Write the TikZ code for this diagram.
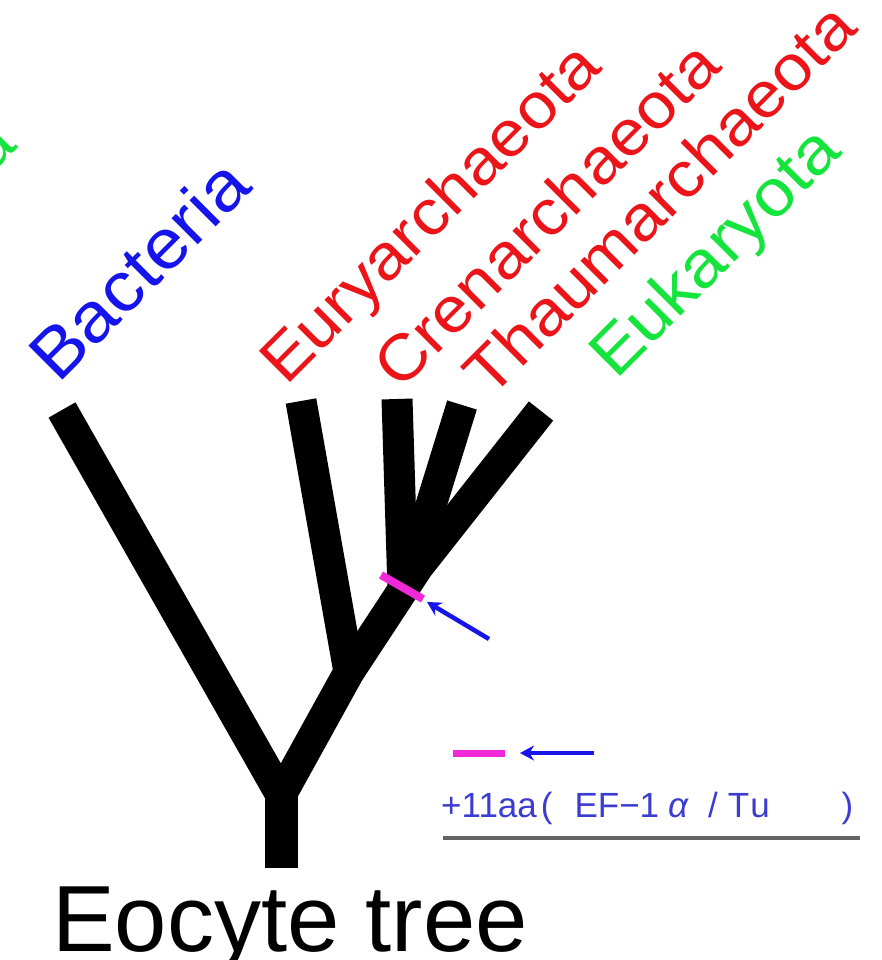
\documentclass[tikz,border=0pt]{standalone}
\usepackage{fontspec}
\setmainfont{Liberation Sans}
\newfontfamily\labelfont[FakeStretch=1.08]{Liberation Sans}
\usetikzlibrary{arrows.meta}

\definecolor{bactblue}{RGB}{20,20,235}
\definecolor{archred}{RGB}{235,20,25}
\definecolor{eukgreen}{RGB}{20,228,60}
\definecolor{legblue}{RGB}{60,60,210}
\definecolor{markpink}{RGB}{240,40,215}
\definecolor{rulegray}{RGB}{100,100,100}

\begin{document}
\begin{tikzpicture}[x=1pt, y=-1pt,
  branch/.style={line width=31pt, line cap=butt, line join=miter},
  taxon/.style={rotate=45, anchor=base west, inner sep=0pt, font=\labelfont\fontsize{64}{64}\selectfont},
  pointer/.style={draw=bactblue, line width=4.5pt, -{Stealth[length=14pt, width=15pt]}}]

\useasboundingbox (0,0) rectangle (881,960);

% tips and inner nodes of the tree (pixel grid, y downwards)
\coordinate (bac)   at (62,410);
\coordinate (eury)  at (301,401);
\coordinate (cren)  at (397,399);
\coordinate (thaum) at (462,405);
\coordinate (euk)   at (541,411);
\coordinate (n0)    at (281,795);
\coordinate (n1)    at (349,672);
\coordinate (n2)    at (418,567);
\coordinate (root)  at (281,868);

% the tree
\draw[branch] (bac) -- (n0) -- (n1) -- (n2) -- (euk);
\draw[branch, line width=33pt] (n0) -- (root);
\draw[branch] (eury) -- (n1);
\draw[branch] (cren) -- (403,590);
\draw[branch] (thaum) -- (414,560);

% +11aa insertion on the stem
\draw[draw=markpink, line width=8pt] (381,575) -- (423,599);
\coordinate (arT) at (489,639);
\coordinate (arH) at (427,602);
\draw[pointer] (arT) -- (arH);

% taxon labels
\node[taxon, text=bactblue, font=\labelfont\fontsize{70}{70}\selectfont] (lbac) at (58,385) {Bacteria};
\node[taxon, text=archred] (leury) at (286,387) {Euryarchaeota};
\node[taxon, text=archred] (lcren) at (400,392) {Crenarchaeota};
\node[taxon, text=archred] (lthaum) at (490,400) {Thaumarchaeota};
\node[taxon, text=eukgreen, font=\labelfont\fontsize{66}{66}\selectfont] (leuk) at (616,381) {Eukaryota};
\node[taxon, text=eukgreen, anchor=base east] (lcut) at (19,147) {a};

% legend
\coordinate (lpA) at (453,753);
\coordinate (lpB) at (505,753);
\draw[draw=markpink, line width=7pt] (lpA) -- (lpB);
\coordinate (laT) at (594,753);
\coordinate (laH) at (520,753);
\draw[pointer] (laT) -- (laH);
\node[anchor=base west, inner sep=0pt, text=legblue, font=\fontsize{35}{35}\selectfont] (legtxt) at (441,817)
  {+11aa\hspace{4pt}(\hspace{22pt}EF−1\hspace{9pt}{\itshape α}\hspace{20pt}/\hspace{10pt}T\hspace{1pt}u\hspace{72pt})};
\coordinate (rl) at (443,838);
\coordinate (rr) at (860,838);
\draw[draw=rulegray, line width=4pt] (rl) -- (rr);

% caption
\node[anchor=base west, inner sep=0pt, font=\fontsize{94}{94}\selectfont] (cap) at (52,951) {Eocyte tree};

\end{tikzpicture}
\end{document}
